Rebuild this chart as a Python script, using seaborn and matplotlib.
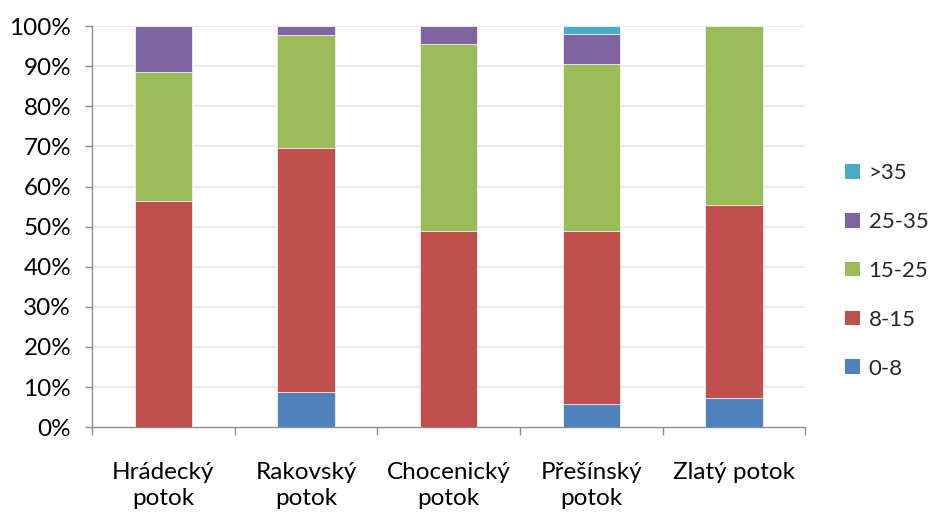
import numpy as np
import pandas as pd
import matplotlib
matplotlib.use("Agg")
import matplotlib.pyplot as plt
from matplotlib.patches import Patch
import seaborn as sns

# Share of sections by slope class (%) for each stream
streams = ["Hrádecký\npotok", "Rakovský\npotok", "Chocenický\npotok", "Přešínský\npotok", "Zlatý potok"]
classes = ["0-8", "8-15", "15-25", "25-35", ">35"]
s_0_8 = [0.0, 8.7, 0.0, 5.7, 7.2]
s_8_15 = [56.5, 60.9, 48.9, 43.3, 48.3]
s_15_25 = [32.2, 28.3, 46.6, 41.5, 44.5]
s_25_35 = [11.3, 2.1, 4.5, 7.5, 0.0]
s_35 = [0.0, 0.0, 0.0, 2.0, 0.0]
colors = ["#4F81BD", "#C0504D", "#9BBB59", "#8064A2", "#4BACC6"]

series = [s_0_8, s_8_15, s_15_25, s_25_35, s_35]
cum = np.cumsum(np.array(series), axis=0)

sns.set_theme(style="white")
plt.rcParams["font.family"] = ["Lato", "DejaVu Sans"]

FS = 17.5

fig = plt.figure(figsize=(9.31, 5.14), dpi=100)
ax = fig.add_axes([0.0988, 0.169, 0.7662, 0.780])

# stacked bars: draw cumulative totals from the top class down
for i in range(len(classes) - 1, -1, -1):
    df = pd.DataFrame({"stream": streams, "value": cum[i]})
    sns.barplot(data=df, x="stream", y="value", color=colors[i], width=0.4,
                saturation=1, edgecolor="#f2f2f2", linewidth=0.6, ax=ax, zorder=3)

ax.set_ylim(0, 100)
ax.set_xlim(-0.5, len(streams) - 0.5)
ax.set_yticks(np.arange(0, 101, 10))
ax.set_yticklabels([f"{v}%" for v in range(0, 101, 10)])
ax.set_xlabel("")
ax.set_ylabel("")

for v in range(10, 101, 10):
    ax.axhline(v, color="#ececec", lw=1.6, zorder=1)

for side in ["top", "right"]:
    ax.spines[side].set_visible(False)
for side in ["left", "bottom"]:
    ax.spines[side].set_color("#8c8c8c")
    ax.spines[side].set_linewidth(1.0)

ax.tick_params(axis="y", which="major", left=True, length=5, width=1,
               color="#8c8c8c", labelsize=FS, pad=10, labelcolor="#000000")
ax.set_xticks(np.arange(len(streams)))
ax.set_xticklabels(streams, linespacing=1.3)
ax.tick_params(axis="x", which="major", bottom=False, labelsize=FS, pad=19,
               labelcolor="#000000")
ax.set_xticks(np.arange(-0.5, len(streams), 1.0), minor=True)
ax.tick_params(axis="x", which="minor", bottom=True, length=6, width=1,
               color="#8c8c8c")

handles = [Patch(facecolor=c, edgecolor="none") for c in colors[::-1]]
leg = fig.legend(handles, classes[::-1], loc="center left",
                 bbox_to_anchor=(0.908, 0.473), frameon=False, fontsize=16,
                 handlelength=0.65, handleheight=0.65, handletextpad=0.4,
                 labelspacing=1.3, borderpad=0, borderaxespad=0)

fig.savefig("out.png", dpi=100)
